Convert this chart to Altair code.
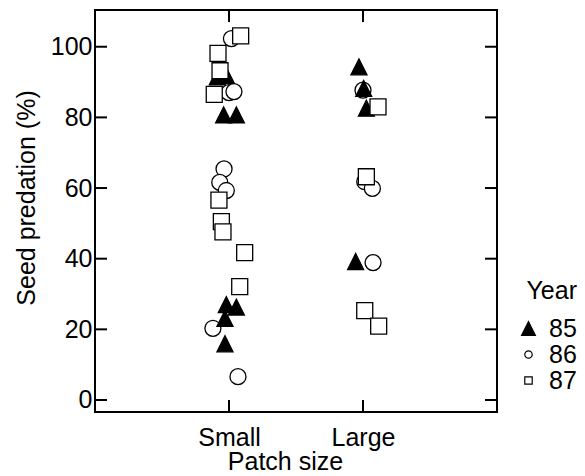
import json
import altair as alt
import pandas as pd

# ---------------- data ----------------
categories = ["Small", "Large"]
years = ["85", "86", "87"]
y_ticks = [0, 20, 40, 60, 80, 100]

# drawing order: 86 (circles), 85 (triangles), 87 (squares)
patch = (
    ["Small"] * 8 + ["Large"] * 4 +
    ["Small"] * 8 + ["Large"] * 4 +
    ["Small"] * 9 + ["Large"] * 4
)
year = (
    ["86"] * 12 +
    ["85"] * 12 +
    ["87"] * 13
)
predation = [
    # 86 small
    102.3, 87.0, 87.3, 65.4, 61.6, 59.3, 20.3, 6.6,
    # 86 large
    87.7, 61.8, 59.9, 38.9,
    # 85 small
    91.5, 91.9, 80.7, 80.7, 27.0, 26.3, 23.1, 15.9,
    # 85 large
    94.3, 88.2, 82.6, 39.2,
    # 87 small
    103.1, 98.1, 93.2, 86.5, 56.6, 50.5, 47.6, 41.7, 32.1,
    # 87 large
    83.0, 63.2, 25.3, 20.9,
]
# horizontal jitter, in category units
jitter = [
    0.018, 0.0, 0.037, -0.037, -0.069, -0.02, -0.12, 0.067,
    0.0, 0.013, 0.07, 0.075,
    -0.087, -0.02, -0.04, 0.055, -0.02, 0.055, -0.03, -0.03,
    -0.03, 0.005, 0.025, -0.055,
    0.087, -0.082, -0.067, -0.11, -0.075, -0.057, -0.045, 0.117, 0.08,
    0.112, 0.025, 0.013, 0.117,
]

# ---------------- styling ----------------
W, H = 402, 402
TICK = 12
FONT = "Liberation Sans"
FS = 25
TRI = "M-1,1L0,-1L1,1Z"

df = pd.DataFrame({"Patch": patch, "Year": year, "Predation": predation, "Jitter": jitter})

yscale = alt.Scale(domain=[-3.4, 110.4], nice=False, zero=False)
xscale = alt.Scale(domain=[0, len(categories) + 1], nice=False, zero=False)

label_expr = " : ".join(
    [f"datum.value == {i + 1} ? '{c}'" for i, c in enumerate(categories)] + ["''"]
)

xaxis = alt.Axis(
    values=[1, 2], labelExpr=label_expr, ticks=False, domain=False, grid=False,
    labelFont=FONT, labelFontSize=FS, labelColor="black", labelPadding=13,
    title="Patch size", titleFont=FONT, titleFontSize=FS, titleFontWeight="normal",
    titleColor="black", titleX=190, titleY=37, titleBaseline="top", titleAlign="center",
)
yaxis = alt.Axis(
    values=y_ticks, ticks=False, domain=False, grid=False,
    labelFont=FONT, labelFontSize=FS, labelColor="black", labelPadding=3,
    title="Seed predation (%)", titleFont=FONT, titleFontSize=FS,
    titleFontWeight="normal", titleColor="black",
    titleX=-68.5, titleY=187.5, titleAngle=-90, titleBaseline="middle",
    titleAlign="center",
)

legend = alt.Legend(
    title="Year", orient="none", legendX=421, legendY=269,
    titleFont=FONT, titleFontSize=FS, titleFontWeight="normal", titleColor="black",
    titleAnchor="end", titlePadding=12,
    labelFont=FONT, labelFontSize=FS, labelColor="black", labelOffset=8,
    symbolSize={"expr": "datum.value == '85' ? 190 : 55"},
    symbolStrokeWidth=1.2,
    rowPadding=-3, padding=0,
)

points = alt.Chart(df).transform_calculate(
    xpos=f"indexof({json.dumps(categories)}, datum.Patch) + 1 + datum.Jitter"
).mark_point(
    filled=True, strokeWidth=1.3, opacity=1, size=256
).encode(
    x=alt.X("xpos:Q", scale=xscale, axis=xaxis),
    y=alt.Y("Predation:Q", scale=yscale, axis=yaxis),
    fill=alt.Fill("Year:N", scale=alt.Scale(domain=years, range=["black", "white", "white"]), legend=legend),
    stroke=alt.Stroke("Year:N", scale=alt.Scale(domain=years, range=["black", "black", "black"]), legend=legend),
    shape=alt.Shape("Year:N", scale=alt.Scale(domain=years, range=[TRI, "circle", "square"]), legend=legend),
)

yt = pd.DataFrame({"v": y_ticks})
xt = pd.DataFrame({"v": list(range(1, len(categories) + 1))})

ytick_l = alt.Chart(yt).mark_rule(color="black", strokeWidth=2).encode(
    y=alt.Y("v:Q", scale=yscale, axis=yaxis), x=alt.value(0), x2=alt.value(TICK))
ytick_r = alt.Chart(yt).mark_rule(color="black", strokeWidth=2).encode(
    y=alt.Y("v:Q", scale=yscale, axis=yaxis), x=alt.value(W - TICK), x2=alt.value(W))
xtick_b = alt.Chart(xt).mark_rule(color="black", strokeWidth=2).encode(
    x=alt.X("v:Q", scale=xscale, axis=xaxis), y=alt.value(H - TICK), y2=alt.value(H))
xtick_t = alt.Chart(xt).mark_rule(color="black", strokeWidth=2).encode(
    x=alt.X("v:Q", scale=xscale, axis=xaxis), y=alt.value(0), y2=alt.value(TICK))

chart = alt.layer(points, ytick_l, ytick_r, xtick_b, xtick_t).properties(
    width=W, height=H,
    autosize=alt.AutoSizeParams(type="none"),
    padding={"left": 95, "top": 10, "right": 88, "bottom": 64},
    background="white",
).configure_view(stroke="black", strokeWidth=2)

chart.save("out.html", embed_options={"renderer": "svg", "actions": False})
